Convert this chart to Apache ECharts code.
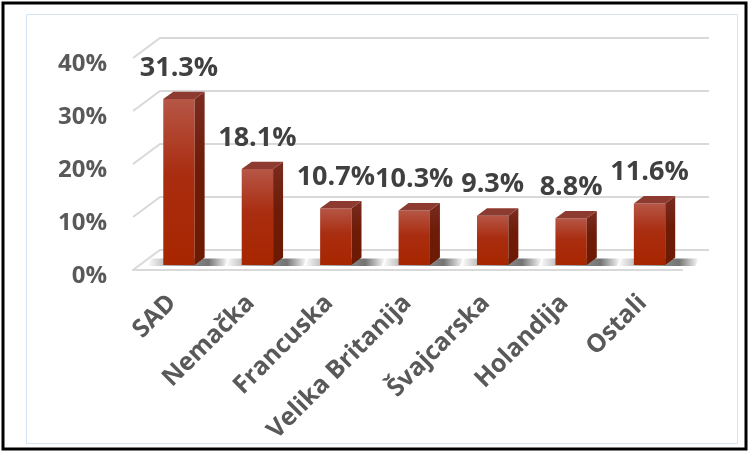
<!DOCTYPE html>
<html>
<head>
<meta charset="utf-8">
<script src="https://cdn.jsdelivr.net/npm/echarts@6/dist/echarts.min.js"></script>
<style>
  html, body { margin: 0; padding: 0; background: #fff; }
  #chart { width: 749px; height: 452px; }
</style>
</head>
<body>
<div id="chart"></div>
<script>
// podaci
var categories = ['SAD', 'Nemačka', 'Francuska', 'Velika Britanija', 'Švajcarska', 'Holandija', 'Ostali'];
var shares = [31.3, 18.1, 10.7, 10.3, 9.3, 8.8, 11.6];
var yTicks = [0, 10, 20, 30, 40];

// dubina "3D" zida
var DX = 27, DY = -20;
var F0 = 0.25, F1 = 0.62; // prednja i zadnja ivica stubica

var myChart = echarts.init(document.getElementById('chart'), null, { renderer: 'canvas' });

function renderWall(params, api) {
  var cs = params.coordSys;
  var v = yTicks[params.dataIndex];
  var y = api.coord([0, v])[1];
  var x0 = cs.x, x1 = cs.x + cs.width;
  return {
    type: 'polyline',
    shape: { points: [[x0, y], [x0 + DX, y + DY], [x1 + DX, y + DY]] },
    style: { stroke: '#d9d9d9', lineWidth: 2, fill: null }
  };
}

function renderBar(params, api) {
  var i = api.value(0), v = api.value(1);
  var base = api.coord([i, 0]);
  var top = api.coord([i, v]);
  var w = api.size([1, 0])[0] * 0.4;
  var ox = DX * F0, oy = DY * F0;
  var ddx = DX * (F1 - F0), ddy = DY * (F1 - F0);
  var xl = base[0] + ox - w / 2, xr = xl + w;
  var yb = base[1] + oy, yt = top[1] + oy;
  return {
    type: 'group',
    children: [
      { // senka na podu
        type: 'polygon',
        shape: { points: [[xl - 16, yb + 1], [xr + ddx + 20, yb + 1], [xr + ddx + 24, yb + ddy + 1], [xl - 12, yb + ddy + 1]] },
        style: {
          fill: new echarts.graphic.LinearGradient(0, 0, 1, 0, [
            { offset: 0, color: 'rgba(0,0,0,0)' },
            { offset: 0.25, color: 'rgba(0,0,0,0.3)' },
            { offset: 0.75, color: 'rgba(0,0,0,0.55)' },
            { offset: 1, color: 'rgba(0,0,0,0)' }
          ])
        }
      },
      { // prednja strana
        type: 'polygon',
        shape: { points: [[xl, yt], [xr, yt], [xr, yb], [xl, yb]] },
        style: {
          fill: new echarts.graphic.LinearGradient(0, 0, 0, 1, [
            { offset: 0, color: '#b65646' },
            { offset: 0.45, color: '#a92d10' },
            { offset: 1, color: '#a72600' }
          ])
        }
      },
      { // bocna strana
        type: 'polygon',
        shape: { points: [[xr, yt], [xr + ddx, yt + ddy], [xr + ddx, yb + ddy], [xr, yb]] },
        style: {
          fill: new echarts.graphic.LinearGradient(0, 0, 0, 1, [
            { offset: 0, color: '#7a2c20' },
            { offset: 0.45, color: '#6e1c08' },
            { offset: 1, color: '#6c1a02' }
          ])
        }
      },
      { // gornja strana
        type: 'polygon',
        shape: { points: [[xl, yt], [xl + ddx, yt + ddy], [xr + ddx, yt + ddy], [xr, yt]] },
        style: { fill: '#8d3b30' }
      },
      { // vrednost
        type: 'text',
        style: {
          x: xl + w / 2, y: yt - 31,
          text: v.toFixed(1) + '%',
          fill: '#404040',
          fontSize: 27, fontWeight: 'bold', fontFamily: '"Open Sans", sans-serif',
          align: 'center', verticalAlign: 'middle'
        }
      }
    ]
  };
}

var option = {
  animation: false,
  backgroundColor: '#fff',
  graphic: [
    { type: 'rect', shape: { x: 3, y: 3, width: 743, height: 446 }, style: { fill: null, stroke: '#000', lineWidth: 3 }, silent: true },
    { type: 'rect', shape: { x: 26.5, y: 14.5, width: 711, height: 429 }, style: { fill: null, stroke: '#d5e3f3', lineWidth: 1 }, silent: true }
  ],
  grid: { left: 133, right: 67, top: 58, bottom: 182 },
  xAxis: {
    type: 'category',
    data: categories,
    axisLine: { lineStyle: { color: '#d9d9d9', width: 2 } },
    axisTick: { show: false },
    axisLabel: {
      interval: 0, rotate: 45, margin: 29,
      color: '#595959', fontSize: 25, fontWeight: 'bold', fontFamily: '"Open Sans", sans-serif'
    }
  },
  yAxis: {
    type: 'value', min: 0, max: 40, interval: 10,
    axisLine: { show: false },
    axisTick: { show: false },
    splitLine: { show: false },
    axisLabel: {
      formatter: '{value}%', margin: 26, verticalAlign: 'top', lineHeight: 12,
      color: '#595959', fontSize: 24, fontWeight: 'bold', fontFamily: '"Open Sans", sans-serif'
    }
  },
  series: [
    {
      type: 'custom',
      renderItem: renderWall,
      data: yTicks.map(function (v) { return [0, v]; }),
      silent: true
    },
    {
      type: 'custom',
      renderItem: renderBar,
      data: shares.map(function (v, i) { return [i, v]; }),
      encode: { x: 0, y: 1 }
    }
  ]
};

myChart.setOption(option);
</script>
</body>
</html>
